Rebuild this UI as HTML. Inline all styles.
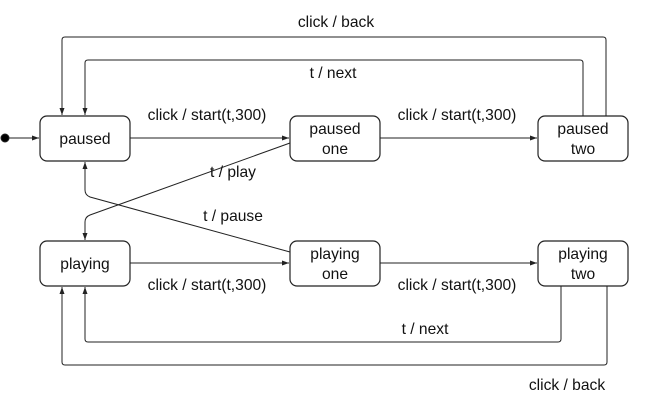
<html><body style="margin:0;background:#fff">
<svg width="668" height="406" xmlns="http://www.w3.org/2000/svg" font-family="Liberation Sans, sans-serif" font-size="15.6" fill="none" stroke="#222" stroke-width="1">
<defs><marker id="a" markerWidth="8" markerHeight="8" refX="7" refY="4" orient="auto" markerUnits="userSpaceOnUse"><path d="M0,1.5 L7,4 L0,6.5 z" fill="#222" stroke="none"/></marker></defs>
<g stroke-width="1.2">
<rect x="40" y="116" width="90" height="45" rx="7"/>
<rect x="290" y="116" width="90" height="45" rx="7"/>
<rect x="538" y="116" width="90" height="45" rx="7"/>
<rect x="40" y="241" width="90" height="45" rx="7"/>
<rect x="290" y="241" width="90" height="45" rx="7"/>
<rect x="538" y="241" width="90" height="45" rx="7"/>
</g>
<circle cx="5" cy="138" r="4" fill="#000"/>
<path d="M9,138 H39" marker-end="url(#a)"/>
<path d="M130,138 H289" marker-end="url(#a)"/>
<path d="M380,138 H537" marker-end="url(#a)"/>
<path d="M130,263 H289" marker-end="url(#a)"/>
<path d="M380,263 H537" marker-end="url(#a)"/>
<path d="M606,116 V40 Q606,37 603,37 H65 Q62,37 62,40 V115" marker-end="url(#a)"/>
<path d="M583,116 V63 Q583,60 580,60 H88 Q85,60 85,63 V115" marker-end="url(#a)"/>
<path d="M561,286 V339 Q561,342 558,342 H88 Q85,342 85,339 V287" marker-end="url(#a)"/>
<path d="M607,286 V362 Q607,365 604,365 H65 Q62,365 62,362 V287" marker-end="url(#a)"/>
<path d="M290,143 L90,215 Q85,217 85,222 V240" marker-end="url(#a)"/>
<path d="M290,252 L90,197 Q85,195 85,190 V162" marker-end="url(#a)"/>
<g fill="#111" stroke="none" text-anchor="middle">
<text x="85" y="144">paused</text>
<text x="335" y="134">paused</text><text x="335" y="154">one</text>
<text x="583" y="134">paused</text><text x="583" y="154">two</text>
<text x="85" y="269">playing</text>
<text x="335" y="259">playing</text><text x="335" y="279">one</text>
<text x="583" y="259">playing</text><text x="583" y="279">two</text>
<text x="336" y="27">click / back</text>
<text x="333" y="78">t / next</text>
<text x="207" y="120">click / start(t,300)</text>
<text x="457" y="120">click / start(t,300)</text>
<text x="233" y="177">t / play</text>
<text x="233" y="221">t / pause</text>
<text x="207" y="290">click / start(t,300)</text>
<text x="457" y="290">click / start(t,300)</text>
<text x="425" y="334">t / next</text>
<text x="567" y="390">click / back</text>
</g>
</svg>
</body></html>
